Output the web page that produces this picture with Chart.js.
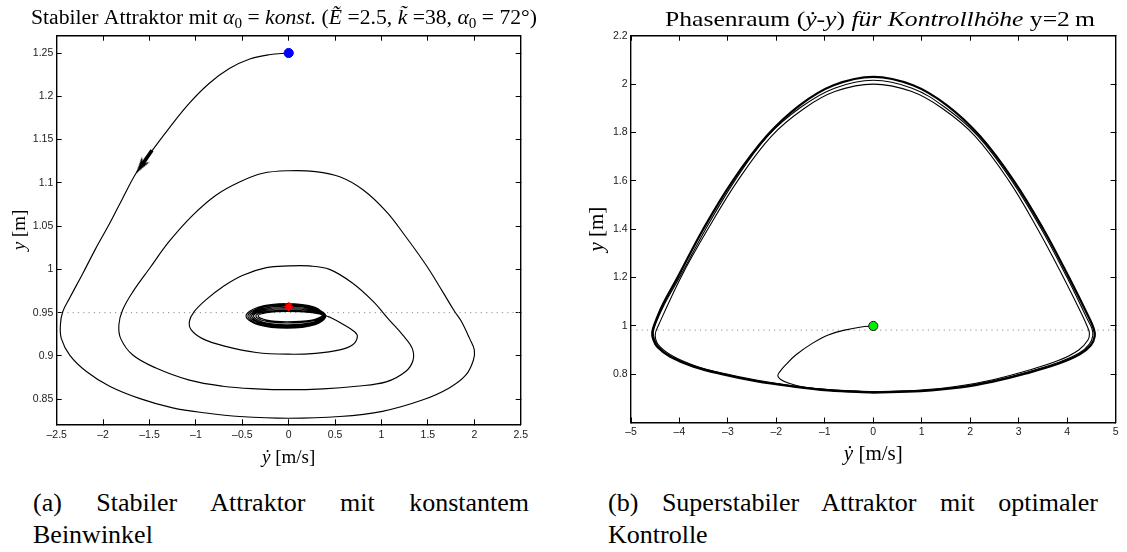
<!DOCTYPE html>
<html>
<head>
<meta charset="utf-8">
<script src="https://cdn.jsdelivr.net/npm/chart.js@4.4.1/dist/chart.umd.min.js"></script>
<style>
  html, body { margin: 0; padding: 0; background: #fff; }
  #page { position: relative; width: 1127px; height: 552px; overflow: hidden; }
  canvas { position: absolute; top: 0; }
  #cvA { left: 0; }
  #cvB { left: 570px; }
  .cap { position: absolute; top: 487px; font-family: "Liberation Serif", "DejaVu Serif", serif;
         font-size: 26px; line-height: 32px; color: #000; }
  .cap .l1 { text-align: justify; text-align-last: justify; }
  #capA { left: 33px; width: 496px; }
  #capB { left: 608px; width: 490px; }
</style>
</head>
<body>
<div id="page">
  <canvas id="cvA" width="545" height="470"></canvas>
  <canvas id="cvB" width="557" height="470"></canvas>
  <div class="cap" id="capA"><div class="l1">(a) Stabiler Attraktor mit konstantem</div><div>Beinwinkel</div></div>
  <div class="cap" id="capB"><div class="l1">(b) Superstabiler Attraktor mit optimaler</div><div>Kontrolle</div></div>
</div>
<script>
// ---------- panel (a): constant leg angle, spiralling into the attractor ----------
const xRangeA = [-2.5, 2.5];
const yRangeA = [0.821, 1.27];
const xTicksA = [-2.5, -2, -1.5, -1, -0.5, 0, 0.5, 1, 1.5, 2, 2.5];
const yTicksA = [0.85, 0.9, 0.95, 1, 1.05, 1.1, 1.15, 1.2, 1.25];

// trajectory from the start point down to the entry of the small cycle
const trajAX = [0, -0.21, -0.42, -0.64, -0.855, -1.07, -1.29, -1.48, -1.645, -1.79,
  -1.93, -2.08, -2.22, -2.36, -2.435, -2.46, -2.45, -2.36, -2.18, -1.93,
  -1.61, -1.25, -0.89, -0.53, 0, 0.55, 1.01, 1.44, 1.73, 1.91,
  1.99, 2.0, 1.95, 1.86, 1.79, 1.66, 1.48, 1.26, 1.05, 0.80,
  0.55, 0.29, 0, -0.28, -0.53, -0.78, -1.03, -1.29, -1.50, -1.68,
  -1.79, -1.83, -1.81, -1.68, -1.43, -1.07, -0.71, -0.35, 0, 0.37,
  0.73, 1.05, 1.26, 1.34, 1.33, 1.23, 1.08, 0.91, 0.69, 0.44,
  0.22, 0, -0.24, -0.50, -0.71, -0.89, -1.02, -1.07, -1.05, -0.93,
  -0.68, -0.35, 0, 0.29, 0.55, 0.69, 0.74, 0.71, 0.58, 0.44];
const trajAY = [1.25, 1.248, 1.243, 1.232, 1.215, 1.192, 1.163, 1.136, 1.111, 1.082,
  1.053, 1.024, 0.995, 0.967, 0.951, 0.936, 0.920, 0.901, 0.882, 0.865,
  0.851, 0.840, 0.834, 0.830, 0.828, 0.830, 0.836, 0.849, 0.863, 0.878,
  0.895, 0.907, 0.920, 0.940, 0.951, 0.974, 1.005, 1.038, 1.067, 1.092,
  1.107, 1.113, 1.114, 1.111, 1.101, 1.086, 1.063, 1.032, 1.001, 0.974,
  0.953, 0.936, 0.920, 0.901, 0.886, 0.872, 0.865, 0.862, 0.861, 0.862,
  0.865, 0.870, 0.882, 0.895, 0.909, 0.924, 0.942, 0.963, 0.984, 1.000,
  1.004, 1.004, 1.002, 0.993, 0.980, 0.965, 0.951, 0.940, 0.930, 0.920,
  0.911, 0.904, 0.902, 0.903, 0.907, 0.913, 0.922, 0.928, 0.937, 0.945];

// the last revolutions around the fixed point
const spiralAX = [
  0.41, 0.284, -0.02, -0.331, -0.46, -0.331, -0.02, 0.284,
  0.40, 0.277, -0.02, -0.317, -0.44, -0.317, -0.02, 0.277,
  0.40, 0.277, -0.02, -0.303, -0.42, -0.303, -0.02, 0.277,
  0.39, 0.27, -0.02, -0.289, -0.40, -0.289, -0.02, 0.27,
  0.385, 0.266, -0.02, -0.275, -0.38, -0.275, -0.02, 0.266,
  0.375, 0.259, -0.02, -0.257, -0.355, -0.257, -0.02, 0.259,
  0.365, 0.252, -0.02, -0.239, -0.33, -0.239, -0.02, 0.252, 0.365];
const spiralAY = [
  0.946, 0.9563, 0.9605, 0.9563, 0.946, 0.9361, 0.932, 0.9361,
  0.946, 0.9552, 0.959, 0.9552, 0.946, 0.9368, 0.933, 0.9368,
  0.946, 0.9541, 0.9575, 0.9541, 0.946, 0.9375, 0.934, 0.9375,
  0.946, 0.9531, 0.956, 0.9531, 0.946, 0.9382, 0.935, 0.9382,
  0.946, 0.952, 0.9545, 0.952, 0.946, 0.9389, 0.936, 0.9389,
  0.946, 0.9509, 0.953, 0.9509, 0.946, 0.9403, 0.938, 0.9403,
  0.946, 0.9499, 0.9515, 0.9499, 0.946, 0.9414, 0.9395, 0.9414, 0.946];

const startAX = [0], startAY = [1.25];
const fixedAX = [0], fixedAY = [0.957];
const arrowShaftX = [-1.473, -1.572], arrowShaftY = [1.1377, 1.1222];
const arrowHeadX = [-1.590], arrowHeadY = [1.1194];
const levelA = 0.95;

// ---------- panel (b): optimal control, controlled height 2 m ----------
const xRangeB = [-5, 5];
const yRangeB = [0.601, 2.2];
const xTicksB = [-5, -4, -3, -2, -1, 0, 1, 2, 3, 4, 5];
const yTicksB = [0.8, 1, 1.2, 1.4, 1.6, 1.8, 2, 2.2];

const transBX = [0, -0.25, -0.59, -0.93, -1.26, -1.60, -1.81, -1.94, -1.97, -1.91, -1.74, -1.47, -1.06, -0.59, 0];
const transBY = [1.0, 0.996, 0.983, 0.963, 0.928, 0.880, 0.839, 0.808, 0.794, 0.779, 0.763, 0.749, 0.739, 0.732, 0.728];

const loop1BX = [0, 0.98, 1.80, 2.47, 3.15, 3.83, 4.24, 4.43, 4.46, 4.41,
  4.30, 3.90, 3.38, 2.80, 2.10, 1.42, 0.78, 0, -0.78, -1.42,
  -2.10, -2.80, -3.40, -3.96, -4.43, -4.50, -4.43, -4.15, -3.68, -3.07,
  -2.39, -1.71, -0.93, 0];
const loop1BY = [0.728, 0.735, 0.753, 0.778, 0.814, 0.858, 0.901, 0.942, 0.970, 1.001,
  1.050, 1.210, 1.405, 1.600, 1.785, 1.900, 1.970, 2.000, 1.970, 1.900,
  1.785, 1.600, 1.405, 1.205, 1.004, 0.963, 0.921, 0.877, 0.836, 0.803,
  0.775, 0.754, 0.737, 0.728];

const loop2BX = [0, 0.98, 1.80, 2.47, 3.15, 3.83, 4.25, 4.46, 4.53, 4.51,
  4.40, 4.00, 3.47, 2.86, 2.16, 1.47, 0.80, 0, -0.80, -1.49,
  -2.18, -2.86, -3.46, -4.00, -4.31, -4.48, -4.54, -4.52, -4.43, -4.18,
  -3.70, -3.09, -2.41, -1.73, -0.93, 0];
const loop2BY = [0.727, 0.733, 0.749, 0.773, 0.808, 0.850, 0.888, 0.925, 0.960, 0.990,
  1.035, 1.200, 1.400, 1.600, 1.785, 1.905, 1.983, 2.016, 1.983, 1.905,
  1.785, 1.600, 1.400, 1.200, 1.090, 1.015, 0.975, 0.947, 0.914, 0.875,
  0.834, 0.801, 0.773, 0.753, 0.735, 0.727];

const limitBX = [0, 0.98, 1.80, 2.47, 3.15, 3.83, 4.26, 4.49, 4.57, 4.55,
  4.45, 4.04, 3.51, 2.90, 2.20, 1.52, 0.82, 0, -0.82, -1.52,
  -2.20, -2.90, -3.51, -4.04, -4.34, -4.50, -4.56, -4.54, -4.45, -4.19,
  -3.71, -3.10, -2.42, -1.74, -0.93, 0];
const limitBY = [0.725, 0.731, 0.746, 0.770, 0.804, 0.845, 0.883, 0.920, 0.958, 0.988,
  1.035, 1.200, 1.400, 1.600, 1.785, 1.912, 1.995, 2.030, 1.995, 1.912,
  1.785, 1.600, 1.400, 1.200, 1.090, 1.015, 0.975, 0.945, 0.912, 0.873,
  0.832, 0.800, 0.772, 0.752, 0.734, 0.725];

const startBX = [0], startBY = [1.0];
const levelB = 0.983;

// ---------- text runs (n = upright, i = italic, s = subscript) ----------
const titleA = [['Stabiler Attraktor mit ', 'n'], ['\u03b1', 'i'], ['0', 's'], [' = ', 'n'], ['konst.', 'i'],
  [' (', 'n'], ['\u1ebc', 'i'], [' =2.5, ', 'n'], ['k\u0303', 'i'], [' =38, ', 'n'],
  ['\u03b1', 'i'], ['0', 's'], [' = 72\u00b0)', 'n']];
const titleB = [['Phasenraum (', 'n'], ['y\u0307', 'i'], ['-', 'n'], ['y', 'i'], [') ', 'n'],
  ['f\u00fcr Kontrollh\u00f6he', 'i'], [' y=2\u2009m', 'n']];
const xLabel = [['y\u0307', 'i'], [' [m/s]', 'n']];
const yLabel = [['y', 'i'], [' [m]', 'n']];

// ---------- drawing helpers ----------
const SERIF = '"Liberation Serif", "DejaVu Serif", serif';
const pts = (xs, ys) => xs.map((x, i) => ({ x, y: ys[i] }));

// draws a run of mixed upright/italic text; centred at x, or stretched over [x, x + width]
function drawRuns(ctx, runs, x, y, size, width) {
  ctx.textAlign = 'left';
  const parts = runs.map(([t, k]) => {
    const s = k === 's' ? size * 0.7 : size;
    const font = (k === 'i' ? 'italic ' : '') + s + 'px ' + SERIF;
    ctx.font = font;
    return { t, font, w: ctx.measureText(t).width, dy: k === 's' ? size * 0.22 : 0 };
  });
  const total = parts.reduce((a, p) => a + p.w, 0);
  ctx.save();
  if (width) { ctx.translate(x, y); ctx.scale(width / total, 1); }
  else { ctx.translate(x - total / 2, y); }
  let cx = 0;
  for (const p of parts) { ctx.font = p.font; ctx.fillText(p.t, cx, p.dy); cx += p.w; }
  ctx.restore();
}

const textPlugin = {
  id: 'panelText',
  afterDraw(chart, args, o) {
    const { ctx, chartArea: a } = chart;
    ctx.save();
    ctx.fillStyle = '#000';
    ctx.textBaseline = 'alphabetic';
    drawRuns(ctx, o.title, o.titleLeft, o.titleY, o.titleSize, o.titleWidth);
    drawRuns(ctx, xLabel, (a.left + a.right) / 2, o.xLabelY, o.labelSize);
    ctx.translate(o.yLabelX, (a.top + a.bottom) / 2);
    ctx.rotate(-Math.PI / 2);
    drawRuns(ctx, yLabel, 0, 0, o.labelSize);
    ctx.restore();
  }
};

// arrow head glyph used as a point style
const arrowHead = document.createElement('canvas');
arrowHead.width = 10; arrowHead.height = 18;
(function () {
  const c = arrowHead.getContext('2d');
  c.fillStyle = '#000';
  c.beginPath();
  c.moveTo(5, 0); c.lineTo(9.6, 17); c.lineTo(5, 12.5); c.lineTo(0.4, 17); c.closePath();
  c.fill();
})();

const curve = (xs, ys, w) => ({ data: pts(xs, ys), showLine: true, borderColor: '#000', backgroundColor: '#000',
  borderWidth: w, pointRadius: 0, pointHoverRadius: 0, tension: 0.38, fill: false });
const level = (range, v) => ({ data: pts(range, [v, v]), showLine: true, borderColor: '#8c8c8c',
  borderWidth: 1, borderDash: [1.2, 4.1], pointRadius: 0, tension: 0, fill: false });

const fmt = v => (v < -1e-9 ? '\u2013' : '') + String(Math.abs(+(+v).toFixed(2)));

function axes(c) {
  const tickFont = { family: '"Liberation Sans", Arial, sans-serif', size: 10.5 };
  const grid = () => ({ drawOnChartArea: false, tickLength: -5, tickColor: '#000', tickWidth: 1 });
  const border = () => ({ display: true, color: '#000', width: 1.4 });
  const setTicks = vals => s => { s.ticks = vals.map(v => ({ value: v })); };
  return {
    x: { type: 'linear', position: 'bottom', min: c.xRange[0], max: c.xRange[1],
      afterBuildTicks: setTicks(c.xTicks), grid: grid(), border: border(),
      ticks: { color: '#1a1a1a', font: tickFont, padding: c.xPad, maxRotation: 0, autoSkip: false, callback: v => fmt(v) },
      afterFit: s => { s.height = c.xHeight; } },
    x2: { type: 'linear', position: 'top', min: c.xRange[0], max: c.xRange[1],
      afterBuildTicks: setTicks(c.xTicks), grid: grid(), border: border(),
      ticks: { display: false }, afterFit: s => { s.height = 0; } },
    y: { type: 'linear', position: 'left', min: c.yRange[0], max: c.yRange[1],
      afterBuildTicks: setTicks(c.yTicks), grid: grid(), border: border(),
      ticks: { color: '#1a1a1a', font: tickFont, padding: 8.4, autoSkip: false, callback: v => fmt(v) },
      afterFit: s => { s.width = c.yWidth; } },
    y2: { type: 'linear', position: 'right', min: c.yRange[0], max: c.yRange[1],
      afterBuildTicks: setTicks(c.yTicks), grid: grid(), border: border(),
      ticks: { display: false }, afterFit: s => { s.width = 0; } }
  };
}

function panel(id, datasets, c) {
  return new Chart(document.getElementById(id), {
    type: 'scatter',
    data: { datasets },
    options: {
      responsive: false, animation: false, events: [],
      layout: { padding: { top: 35.7, right: c.padRight, left: 0, bottom: 0 } },
      plugins: { legend: { display: false }, tooltip: { enabled: false }, title: { display: false },
        panelText: c.text },
      scales: axes(c)
    },
    plugins: [textPlugin]
  });
}

panel('cvA', [
  { data: pts(startAX, startAY), pointRadius: 4.6, pointBackgroundColor: '#0000ff', pointBorderColor: '#0000ff', pointBorderWidth: 1 },
  { data: pts(fixedAX, fixedAY), pointStyle: 'star', pointRadius: 4.4, pointBorderColor: '#ff0000', pointBorderWidth: 1.8 },
  { data: pts(arrowHeadX, arrowHeadY), pointStyle: arrowHead, pointRotation: 214.5, pointRadius: 9 },
  { data: pts(arrowShaftX, arrowShaftY), showLine: true, borderColor: '#000', borderWidth: 3.6, pointRadius: 0, tension: 0 },
  curve(trajAX.concat(spiralAX), trajAY.concat(spiralAY), 1.15),
  level(xRangeA, levelA)
], {
  xRange: xRangeA, yRange: yRangeA, xTicks: xTicksA, yTicks: yTicksA,
  xHeight: 45.7, yWidth: 56.7, padRight: 24.3, xPad: 10,
  text: { title: titleA, titleLeft: 31, titleWidth: 506, titleY: 24, titleSize: 20,
    xLabelY: 462.5, yLabelX: 24.8, labelSize: 19 }
});

panel('cvB', [
  { data: pts(startBX, startBY), pointRadius: 4.6, pointBackgroundColor: '#00ee00', pointBorderColor: '#1a1a1a', pointBorderWidth: 1 },
  curve(transBX, transBY, 1.1),
  curve(loop1BX, loop1BY, 1.1),
  curve(loop2BX, loop2BY, 1.1),
  curve(limitBX, limitBY, 2.3),
  level(xRangeB, levelB)
], {
  xRange: xRangeB, yRange: yRangeB, xTicks: xTicksB, yTicks: yTicksB,
  xHeight: 47.5, yWidth: 61, padRight: 6, xPad: 8.5,
  text: { title: titleB, titleLeft: 95, titleWidth: 430, titleY: 26, titleSize: 22,
    xLabelY: 459.5, yLabelX: 32.6, labelSize: 21 }
});
</script>
</body>
</html>
